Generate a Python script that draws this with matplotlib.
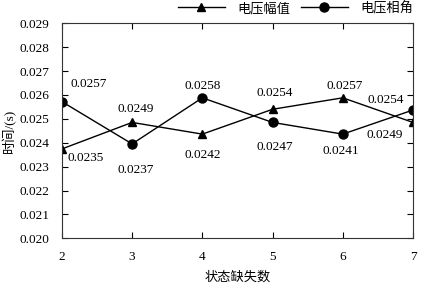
import matplotlib
matplotlib.use("Agg")
import matplotlib.pyplot as plt

plt.rcParams['font.family'] = ['Liberation Serif', 'Noto Sans CJK SC']

x = [2, 3, 4, 5, 6, 7]
amp = [0.02374, 0.02485, 0.02436, 0.02540, 0.02588, 0.02485]
ang = [0.02572, 0.02395, 0.02588, 0.02485, 0.02436, 0.02537]
amp_labels = ['0.0235', '0.0249', '0.0242', '0.0254', '0.0257', '0.0249']
ang_labels = ['0.0257', '0.0237', '0.0258', '0.0247', '0.0241', '0.0254']
yticks = [0.020, 0.021, 0.022, 0.023, 0.024, 0.025, 0.026, 0.027, 0.028, 0.029]

fig = plt.figure(figsize=(4.21, 2.84), dpi=100)
ax = fig.add_axes([0.147, 0.161, 0.834, 0.757])

ax.plot(x, amp, color='black', lw=1.0, marker='^', ms=6, label='电压幅值')
ax.plot(x, ang, color='black', lw=1.0, marker='o', ms=6.5, label='电压相角')

amp_off = [(24, -9), (4, 13), (0, -21), (2, 16), (2, 12), (-28, -13)]
ang_off = [(27, 18), (4, -26), (0, 12), (2, -25), (-2, -17), (-27, 10)]
for xi, yi, t, o in zip(x, amp, amp_labels, amp_off):
    ax.annotate(t, (xi, yi), xytext=o, textcoords='offset pixels',
                ha='center', va='center', fontsize=9.5)
for xi, yi, t, o in zip(x, ang, ang_labels, ang_off):
    ax.annotate(t, (xi, yi), xytext=o, textcoords='offset pixels',
                ha='center', va='center', fontsize=9.5)

ax.set_xlim(2, 7)
ax.set_ylim(0.020, 0.029)
ax.set_xticks(x)
ax.set_yticks(yticks)
ax.set_yticklabels([f'{v:.3f}' for v in yticks])
ax.tick_params(direction='in', length=4, width=0.8, top=True, right=True,
               labelsize=9.5)
ax.tick_params(axis='x', pad=9)
ax.tick_params(axis='y', pad=9)
for s in ax.spines.values():
    s.set_linewidth(0.8)
    s.set_color('#333333')

ax.set_xlabel('状态缺失数', fontsize=9.5, labelpad=6)
ax.set_ylabel('时间/(s)', fontsize=9.5, labelpad=2)

ax.legend(loc='center right', bbox_to_anchor=(1.0, 1.0 + 15 / 215), ncol=2,
          frameon=False, fontsize=9.5, handlelength=3.6, columnspacing=0.8,
          handletextpad=0.9, borderaxespad=0.0, borderpad=0.0)

fig.savefig('out.png', dpi=100)
